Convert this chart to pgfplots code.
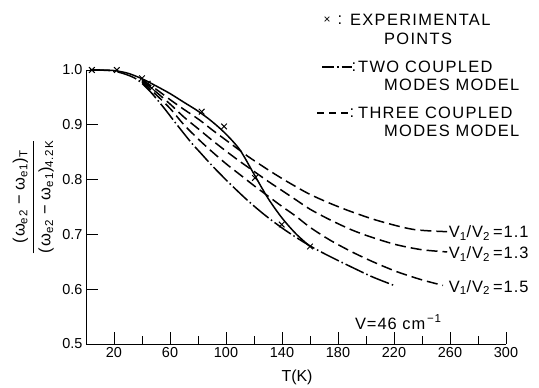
\documentclass[border=0pt]{standalone}
\usepackage{fontspec}
\setmainfont{Liberation Sans}
\newfontfamily\legfont[LetterSpace=8]{Liberation Sans}
\newfontfamily\labfont[LetterSpace=6]{Liberation Sans}
\newfontfamily\yfont[LetterSpace=8]{Liberation Sans}
\usepackage{pgfplots}
\pgfplotsset{compat=1.18}
\begin{document}
\begin{tikzpicture}[x=1bp,y=1bp]
\path[use as bounding box] (-86,-43) rectangle (453,344);
\begin{axis}[
  at={(0,0)}, anchor=south west,
  scale only axis, width=420bp, height=274bp,
  xmin=0, xmax=300, ymin=0.5, ymax=1.0,
  axis x line*=bottom, axis y line*=left,
  axis line style={line width=1bp},
  tick align=inside,
  xtick={20,60,100,140,180,220,260,300},
  minor xtick={40,80,120,160,200,240,280},
  ytick={0.5,0.6,0.7,0.8,0.9,1.0},
  major tick length=12bp, minor tick length=8bp,
  every tick/.style={line width=0.9bp, black},
  yticklabel style={/pgf/number format/.cd, fixed, fixed zerofill, precision=1},
  /pgf/number format/assume math mode=true,
  tick label style={font=\fontsize{14.5}{16}\selectfont},
  clip=false,
]
% solid curve through the points
\addplot[black, line width=1.5bp, smooth, tension=0.5] coordinates {
(3,1.0)(10,1.0)(20,0.999)(30,0.994)(40,0.984)(50,0.971)(60,0.957)(70,0.941)(80,0.925)(90,0.906)(100,0.883)(110,0.854)(120,0.810)(130,0.766)(140,0.730)(150,0.701)(160,0.678)};
% two coupled modes model
\addplot[black, line width=1.5bp, smooth, tension=0.5, dash pattern=on 20bp off 3bp on 1.5bp off 3bp] coordinates {
(3,1.0)(20,0.998)(35,0.985)(45,0.963)(55,0.933)(65,0.900)(75,0.868)(81,0.851)(91,0.823)(103,0.792)(115,0.763)(125,0.741)(134,0.723)(145,0.703)(160,0.679)(174,0.660)(190,0.640)(205,0.622)(221,0.606)};
% three coupled modes, V1/V2 = 1.1
\addplot[black, line width=1.5bp, smooth, tension=0.5, dash pattern=on 11bp off 5bp] coordinates {
(40,0.982)(50,0.965)(60,0.946)(70,0.928)(81,0.909)(90,0.891)(100,0.872)(110,0.853)(117,0.840)(130,0.818)(140,0.802)(150,0.787)(160,0.773)(174,0.757)(190,0.741)(210,0.724)(234,0.709)(258,0.705)};
% 1.3
\addplot[black, line width=1.5bp, smooth, tension=0.5, dash pattern=on 11bp off 5bp] coordinates {
(40,0.980)(50,0.960)(60,0.938)(70,0.914)(81,0.891)(90,0.872)(100,0.852)(110,0.833)(120,0.815)(130,0.797)(140,0.780)(150,0.763)(160,0.746)(174,0.727)(190,0.708)(205,0.694)(222,0.681)(240,0.672)(258,0.668)};
% 1.5
\addplot[black, line width=1.5bp, smooth, tension=0.5, dash pattern=on 11bp off 5bp] coordinates {
(40,0.978)(50,0.955)(60,0.930)(70,0.900)(81,0.872)(90,0.851)(100,0.829)(110,0.809)(120,0.789)(130,0.770)(140,0.751)(150,0.733)(160,0.713)(174,0.690)(190,0.668)(205,0.650)(222,0.632)(240,0.617)(255,0.607)};
% experimental points
\addplot[only marks, mark=x, mark size=4bp, mark options={line width=1bp, black}] coordinates {
(4.2,1.0)(22,1.0)(40,0.985)(44,0.975)(47,0.967)(82.6,0.924)(98.6,0.897)(120.7,0.803)(139.8,0.718)(160,0.678)};
\node[anchor=west, inner sep=0, font=\fontsize{16.5}{18}\labfont] at (axis cs:192,0.54) {V=46 cm\textsuperscript{\,−1}};
\node[anchor=west, inner sep=0, font=\fontsize{16.5}{18}\labfont] at (axis cs:259,0.703) {V\textsubscript{1}/V\textsubscript{2}\hspace{3pt}=1.1};
\node[anchor=west, inner sep=0, font=\fontsize{16.5}{18}\labfont] at (axis cs:259,0.664) {V\textsubscript{1}/V\textsubscript{2}\hspace{3pt}=1.3};
\node[anchor=west, inner sep=0, font=\fontsize{16.5}{18}\labfont] at (axis cs:259,0.603) {V\textsubscript{1}/V\textsubscript{2}\hspace{3pt}=1.5};
\end{axis}
% legend
\begin{scope}[every node/.style={inner sep=0, font=\fontsize{16.5}{18}\legfont}]
\node[font=\fontsize{12}{14}\selectfont] at (241,324) {×};
\node at (254,324) {:};
\node[anchor=west] at (264,324) {EXPERIMENTAL};
\node[anchor=west] at (298,305) {POINTS};
\draw[line width=1.3bp, dash pattern=on 12bp off 3bp on 1.5bp off 3bp] (236,277) -- (266,277);
\node at (268,277) {:};
\node[anchor=west] at (272,277) {TWO COUPLED};
\node[anchor=west] at (298,259) {MODES MODEL};
\draw[line width=1.3bp, dash pattern=on 7bp off 5bp] (231,231) -- (262,231);
\node at (266,231) {:};
\node[anchor=west] at (272,231) {THREE COUPLED};
\node[anchor=west] at (298,213) {MODES MODEL};
\end{scope}
\node[rotate=90, inner sep=0, font=\fontsize{16.5}{18}\yfont] at (-52,147) {\begin{tabular}{@{}c@{}}(ω\textsubscript{e2}\hspace{5pt}−\hspace{5pt}ω\textsubscript{e1})\textsubscript{T}\\[3pt]\hline\rule{0pt}{17pt}(ω\textsubscript{e2}\hspace{5pt}−\hspace{5pt}ω\textsubscript{e1})\textsubscript{4.2K}\end{tabular}};
\node[font=\fontsize{16}{18}\selectfont] at (211,-33) {T(K)};
\end{tikzpicture}
\end{document}
